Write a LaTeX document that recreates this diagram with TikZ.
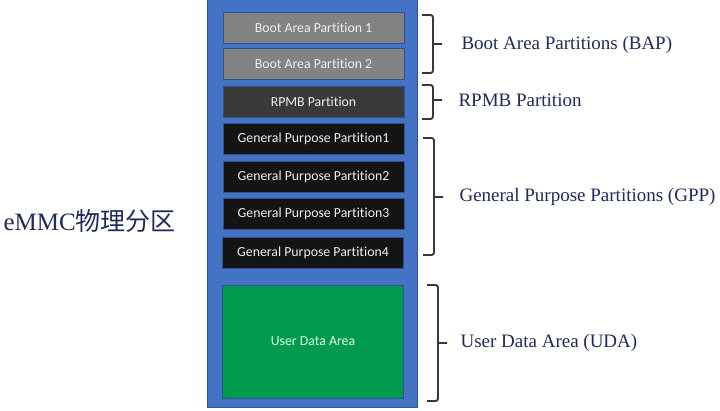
\documentclass[tikz,border=0pt]{standalone}
\usepackage{fontspec}
\setmainfont{Liberation Serif}
\newfontfamily\cjk{Noto Sans CJK SC}
\newfontfamily\boxfont[Ligatures=NoCommon]{Carlito}
\usepackage{tikz}

\definecolor{emmcblue}{HTML}{4472C4}
\definecolor{edgeblue}{HTML}{2F528F}
\definecolor{bootgray}{HTML}{838383}
\definecolor{rpmbgray}{HTML}{3A3A3A}
\definecolor{gppblack}{HTML}{141414}
\definecolor{udagreen}{HTML}{009A4E}
\definecolor{labelnavy}{RGB}{32,42,92}

\begin{document}
\begin{tikzpicture}[x=1pt,y=-1pt,
        part/.style={draw=edgeblue,line width=0.8pt,minimum width=181pt,minimum height=31pt,
            inner sep=0pt,text=white!94!black,font=\boxfont\fontsize{13.8}{15}\selectfont},
        brk/.style={draw=black!78,line width=1.9pt,rounded corners=2.5pt},
        lbl/.style={anchor=west,text=labelnavy,font=\fontsize{19}{22}\selectfont}]
            \useasboundingbox (0,0) rectangle (720,410);
            \node[fill=emmcblue,draw=edgeblue,line width=1pt,minimum width=210pt,minimum height=409pt,inner sep=0pt]
                (emmc) at (312.5,202.5) {};
            \node[part,fill=bootgray]  (boot1) at (313.5, 27.5) {Boot Area Partition 1};
            \node[part,fill=bootgray]  (boot2) at (313.5, 64)   {Boot Area Partition 2};
            \node[part,fill=rpmbgray]  (rpmb)  at (313.5,101.5) {RPMB Partition};
            \node[part,fill=gppblack]  (gpp1)  at (313.5,138.5) {General Purpose Partition1};
            \node[part,fill=gppblack]  (gpp2)  at (313.5,176.5) {General Purpose Partition2};
            \node[part,fill=gppblack]  (gpp3)  at (313.5,213.5) {General Purpose Partition3};
            \node[part,fill=gppblack]  (gpp4)  at (313,253)     {General Purpose Partition4};
            \node[part,fill=udagreen,minimum height=113pt,text=green!10!white] (uda) at (313,341.5) {User Data Area};
            % braces
            \draw[brk] (422,15) -- (433,15) -- (433,73) -- (422,73) (433,44) -- (442,44);
            \draw[brk] (422,85) -- (433,85) -- (433,119) -- (422,119) (433,100) -- (442,100);
            \draw[brk] (423,138) -- (434,138) -- (434,255) -- (423,255) (434,197) -- (443,197);
            \draw[brk] (427,285) -- (438,285) -- (438,401) -- (427,401) (438,343) -- (447,343);
            \node[lbl] (bap)   at (458,45)  {Boot Area Partitions (BAP)};
            \node[lbl] (rpmbl) at (455,100) {RPMB Partition};
            \node[lbl] (gpp)   at (456,197) {General Purpose Partitions (GPP)};
            \node[lbl] (udal)  at (457,343) {User Data Area (UDA)};
            \node[lbl,font=\fontsize{25}{28}\selectfont] (title) at (0,221) {eMMC{\cjk 物理分区}};
        \end{tikzpicture}
\end{document}
